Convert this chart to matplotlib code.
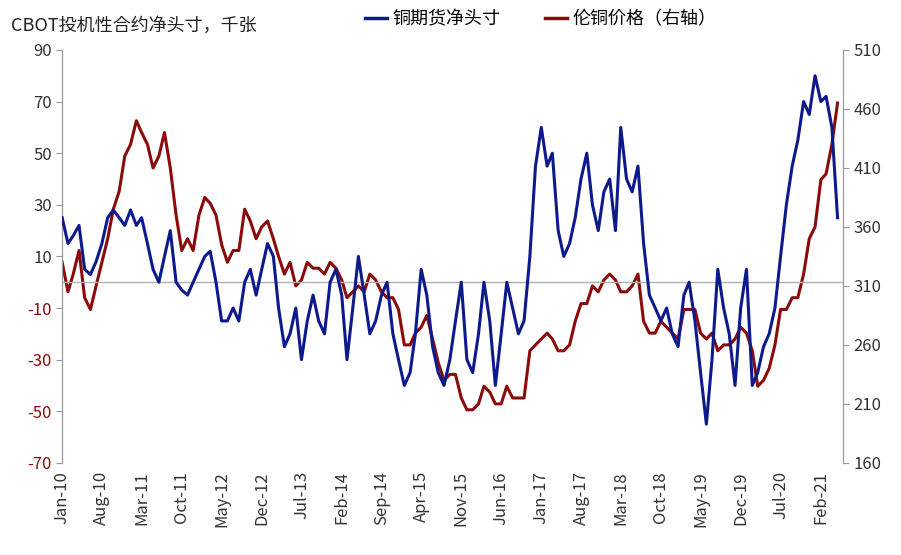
import matplotlib
matplotlib.use("Agg")
import matplotlib.pyplot as plt
import matplotlib.dates as mdates
from matplotlib import font_manager
import pandas as pd

cjk_name = None
for path in font_manager.findSystemFonts():
    if "CJK" in path and ("SC" in path or "Regular" in path or "ttc" in path):
        try:
            font_manager.fontManager.addfont(path)
            name = font_manager.FontProperties(fname=path).get_name()
            if cjk_name is None or "SC" in name:
                cjk_name = name
        except Exception:
            pass
plt.rcParams["font.family"] = [cjk_name or "Noto Sans CJK SC", "DejaVu Sans"]

dates = pd.date_range("2010-01-01", "2021-05-01", freq="MS")

net_position = [
    25, 15, 18, 22, 5, 3, 8, 15, 25, 28, 25, 22,
    28, 22, 25, 15, 5, 0, 10, 20, 0, -3, -5, 0,
    5, 10, 12, 0, -15, -15, -10, -15, 0, 5, -5, 5,
    15, 10, -10, -25, -20, -10, -30, -15, -5, -15, -20, 0,
    5, -5, -30, -10, 10, -5, -20, -15, -5, 0, -20, -30,
    -40, -35, -20, 5, -5, -25, -35, -40, -30, -15, 0, -30,
    -35, -20, 0, -15, -40, -20, 0, -10, -20, -15, 10, 45,
    60, 45, 50, 20, 10, 15, 25, 40, 50, 30, 20, 35,
    40, 20, 60, 40, 35, 45, 15, -5, -10, -15, -10, -20,
    -25, -5, 0, -15, -35, -55, -30, 5, -10, -20, -40, -10,
    5, -40, -35, -25, -20, -10, 10, 30, 45, 55, 70, 65,
    80, 70, 72, 60, 25,
]

lme_copper = [
    330, 305, 320, 340, 300, 290, 310, 330, 350, 375, 390, 420,
    430, 450, 440, 430, 410, 420, 440, 410, 370, 340, 350, 340,
    370, 385, 380, 370, 345, 330, 340, 340, 375, 365, 350, 360,
    365, 350, 335, 320, 330, 310, 315, 330, 325, 325, 320, 330,
    325, 315, 300, 305, 310, 305, 320, 315, 305, 300, 300, 290,
    260, 260, 270, 275, 285, 265, 245, 230, 235, 235, 215, 205,
    205, 210, 225, 220, 210, 210, 225, 215, 215, 215, 255, 260,
    265, 270, 265, 255, 255, 260, 280, 295, 295, 310, 305, 315,
    320, 315, 305, 305, 310, 320, 280, 270, 270, 280, 275, 270,
    265, 290, 290, 290, 270, 265, 270, 255, 260, 260, 265, 275,
    270, 255, 225, 230, 240, 260, 290, 290, 300, 300, 320, 350,
    360, 400, 405, 430, 465,
]

left_ticks = list(range(-70, 91, 20))
right_ticks = list(range(160, 511, 50))
blue = "#0c1a8c"
red = "#8b0a0a"

fig = plt.figure(figsize=(9.01, 5.55), dpi=100)
ax = fig.add_axes([0.069, 0.166, 0.867, 0.744])
ax2 = ax.twinx()

ax.plot(dates, net_position, color=blue, linewidth=2.2, zorder=3)
ax2.plot(dates, lme_copper, color=red, linewidth=2.2)
ax.set_zorder(ax2.get_zorder() + 1)
ax.patch.set_visible(False)

ax.axhline(0, color="#b0b0b0", linewidth=1)
ax.set_ylim(-70, 90)
ax2.set_ylim(160, 510)
ax.set_yticks(left_ticks)
ax2.set_yticks(right_ticks)
ax.set_yticklabels([str(t) for t in left_ticks], fontsize=12)
for lbl, t in zip(ax.get_yticklabels(), left_ticks):
    lbl.set_color(red if t < 0 else "#333333")
ax2.set_yticklabels([str(t) for t in right_ticks], fontsize=12, color="#333333")

ax.set_xlim(pd.Timestamp("2010-01-01"), pd.Timestamp("2021-06-01"))
ticks = pd.date_range("2010-01-01", "2021-02-01", freq="7MS")
ax.set_xticks(ticks)
ax.set_xticklabels([d.strftime("%b-%y") for d in ticks], rotation=90, fontsize=12, color="#333333")
ax.tick_params(axis="x", length=0, pad=6)
ax.tick_params(axis="y", length=4, color="#999999")
ax2.tick_params(axis="y", length=4, color="#999999")

for a in (ax, ax2):
    for s in ("top", "bottom"):
        a.spines[s].set_visible(False)
    a.spines["left"].set_color("#999999")
    a.spines["right"].set_color("#999999")

fig.text(0.012, 0.945, "CBOT投机性合约净头寸，千张", fontsize=13, color="#222222")
h1, = ax.plot([], [], color=blue, linewidth=2.5, label="铜期货净头寸")
h2, = ax.plot([], [], color=red, linewidth=2.5, label="伦铜价格（右轴）")
fig.legend(handles=[h1, h2], loc="upper center", bbox_to_anchor=(0.6, 1.01),
           ncol=2, frameon=False, fontsize=13, handlelength=1.2,
           columnspacing=2.5, handletextpad=0.3)

fig.savefig("out.png", dpi=100)
